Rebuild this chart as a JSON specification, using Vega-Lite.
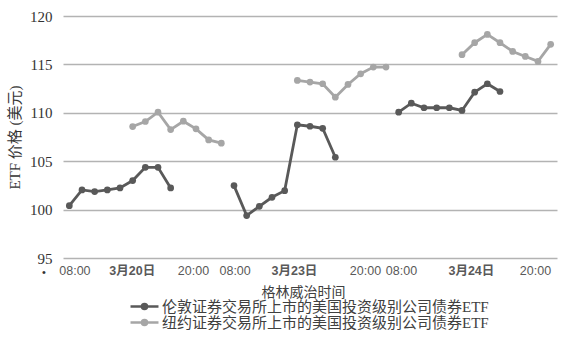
{
  "$schema": "https://vega.github.io/schema/vega-lite/v6.json",
  "width": 494,
  "height": 242,
  "autosize": "none",
  "padding": {"left": 63, "top": 16, "right": 13, "bottom": 81},
  "background": "white",
  "config": {"view": {"stroke": null}},
  "datasets": {
    "prices": [
      {"etf": "伦敦证券交易所上市的美国投资级别公司债券ETF", "seg": "L1", "slot": 0, "price": 100.41},
      {"etf": "伦敦证券交易所上市的美国投资级别公司债券ETF", "seg": "L1", "slot": 1, "price": 102.03},
      {"etf": "伦敦证券交易所上市的美国投资级别公司债券ETF", "seg": "L1", "slot": 2, "price": 101.86},
      {"etf": "伦敦证券交易所上市的美国投资级别公司债券ETF", "seg": "L1", "slot": 3, "price": 102.03},
      {"etf": "伦敦证券交易所上市的美国投资级别公司债券ETF", "seg": "L1", "slot": 4, "price": 102.24},
      {"etf": "伦敦证券交易所上市的美国投资级别公司债券ETF", "seg": "L1", "slot": 5, "price": 103.0},
      {"etf": "伦敦证券交易所上市的美国投资级别公司债券ETF", "seg": "L1", "slot": 6, "price": 104.37},
      {"etf": "伦敦证券交易所上市的美国投资级别公司债券ETF", "seg": "L1", "slot": 7, "price": 104.37},
      {"etf": "伦敦证券交易所上市的美国投资级别公司债券ETF", "seg": "L1", "slot": 8, "price": 102.24},
      {"etf": "纽约证券交易所上市的美国投资级别公司债券ETF", "seg": "N1", "slot": 5, "price": 108.58},
      {"etf": "纽约证券交易所上市的美国投资级别公司债券ETF", "seg": "N1", "slot": 6, "price": 109.1},
      {"etf": "纽约证券交易所上市的美国投资级别公司债券ETF", "seg": "N1", "slot": 7, "price": 110.06},
      {"etf": "纽约证券交易所上市的美国投资级别公司债券ETF", "seg": "N1", "slot": 8, "price": 108.27},
      {"etf": "纽约证券交易所上市的美国投资级别公司债券ETF", "seg": "N1", "slot": 9, "price": 109.13},
      {"etf": "纽约证券交易所上市的美国投资级别公司债券ETF", "seg": "N1", "slot": 10, "price": 108.34},
      {"etf": "纽约证券交易所上市的美国投资级别公司债券ETF", "seg": "N1", "slot": 11, "price": 107.2},
      {"etf": "纽约证券交易所上市的美国投资级别公司债券ETF", "seg": "N1", "slot": 12, "price": 106.86},
      {"etf": "伦敦证券交易所上市的美国投资级别公司债券ETF", "seg": "L2", "slot": 13, "price": 102.48},
      {"etf": "伦敦证券交易所上市的美国投资级别公司债券ETF", "seg": "L2", "slot": 14, "price": 99.38},
      {"etf": "伦敦证券交易所上市的美国投资级别公司债券ETF", "seg": "L2", "slot": 15, "price": 100.34},
      {"etf": "伦敦证券交易所上市的美国投资级别公司债券ETF", "seg": "L2", "slot": 16, "price": 101.27},
      {"etf": "伦敦证券交易所上市的美国投资级别公司债券ETF", "seg": "L2", "slot": 17, "price": 101.96},
      {"etf": "伦敦证券交易所上市的美国投资级别公司债券ETF", "seg": "L2", "slot": 18, "price": 108.76},
      {"etf": "伦敦证券交易所上市的美国投资级别公司债券ETF", "seg": "L2", "slot": 19, "price": 108.61},
      {"etf": "伦敦证券交易所上市的美国投资级别公司债券ETF", "seg": "L2", "slot": 20, "price": 108.4},
      {"etf": "伦敦证券交易所上市的美国投资级别公司债券ETF", "seg": "L2", "slot": 21, "price": 105.41},
      {"etf": "纽约证券交易所上市的美国投资级别公司债券ETF", "seg": "N2", "slot": 18, "price": 113.34},
      {"etf": "纽约证券交易所上市的美国投资级别公司债券ETF", "seg": "N2", "slot": 19, "price": 113.17},
      {"etf": "纽约证券交易所上市的美国投资级别公司债券ETF", "seg": "N2", "slot": 20, "price": 113.0},
      {"etf": "纽约证券交易所上市的美国投资级别公司债券ETF", "seg": "N2", "slot": 21, "price": 111.61},
      {"etf": "纽约证券交易所上市的美国投资级别公司债券ETF", "seg": "N2", "slot": 22, "price": 112.93},
      {"etf": "纽约证券交易所上市的美国投资级别公司债券ETF", "seg": "N2", "slot": 23, "price": 114.03},
      {"etf": "纽约证券交易所上市的美国投资级别公司债券ETF", "seg": "N2", "slot": 24, "price": 114.72},
      {"etf": "纽约证券交易所上市的美国投资级别公司债券ETF", "seg": "N2", "slot": 25, "price": 114.72},
      {"etf": "伦敦证券交易所上市的美国投资级别公司债券ETF", "seg": "L3", "slot": 26, "price": 110.06},
      {"etf": "伦敦证券交易所上市的美国投资级别公司债券ETF", "seg": "L3", "slot": 27, "price": 110.99},
      {"etf": "伦敦证券交易所上市的美国投资级别公司债券ETF", "seg": "L3", "slot": 28, "price": 110.52},
      {"etf": "伦敦证券交易所上市的美国投资级别公司债券ETF", "seg": "L3", "slot": 29, "price": 110.52},
      {"etf": "伦敦证券交易所上市的美国投资级别公司债券ETF", "seg": "L3", "slot": 30, "price": 110.52},
      {"etf": "伦敦证券交易所上市的美国投资级别公司债券ETF", "seg": "L3", "slot": 31, "price": 110.24},
      {"etf": "伦敦证券交易所上市的美国投资级别公司债券ETF", "seg": "L3", "slot": 32, "price": 112.13},
      {"etf": "伦敦证券交易所上市的美国投资级别公司债券ETF", "seg": "L3", "slot": 33, "price": 113.0},
      {"etf": "伦敦证券交易所上市的美国投资级别公司债券ETF", "seg": "L3", "slot": 34, "price": 112.2},
      {"etf": "纽约证券交易所上市的美国投资级别公司债券ETF", "seg": "N3", "slot": 31, "price": 116.0},
      {"etf": "纽约证券交易所上市的美国投资级别公司债券ETF", "seg": "N3", "slot": 32, "price": 117.24},
      {"etf": "纽约证券交易所上市的美国投资级别公司债券ETF", "seg": "N3", "slot": 33, "price": 118.1},
      {"etf": "纽约证券交易所上市的美国投资级别公司债券ETF", "seg": "N3", "slot": 34, "price": 117.24},
      {"etf": "纽约证券交易所上市的美国投资级别公司债券ETF", "seg": "N3", "slot": 35, "price": 116.34},
      {"etf": "纽约证券交易所上市的美国投资级别公司债券ETF", "seg": "N3", "slot": 36, "price": 115.82},
      {"etf": "纽约证券交易所上市的美国投资级别公司债券ETF", "seg": "N3", "slot": 37, "price": 115.31},
      {"etf": "纽约证券交易所上市的美国投资级别公司债券ETF", "seg": "N3", "slot": 38, "price": 117.07}
    ],
    "bullet": [
      {"slot": -2.0, "price": 93.5, "t": "•"}
    ]
  },
  "layer": [
    {
      "data": {"name": "prices"},
      "mark": {"type": "line", "strokeWidth": 2.8, "point": {"filled": true, "size": 45, "opacity": 1}},
      "encoding": {
        "x": {
          "field": "slot", "type": "quantitative",
          "scale": {"domain": [-0.5, 38.5], "nice": false, "zero": false},
          "axis": {
            "values": [0.4, 4.93, 9.76, 13.05, 17.73, 23.34, 26.18, 31.7, 36.76],
            "labelExpr": "datum.value < 2 ? '08:00' : datum.value < 7 ? '3月20日' : datum.value < 11 ? '20:00' : datum.value < 15 ? '08:00' : datum.value < 20 ? '3月23日' : datum.value < 25 ? '20:00' : datum.value < 28 ? '08:00' : datum.value < 34 ? '3月24日' : '20:00'",
            "labelFontWeight": {"condition": {"test": "(datum.value > 4 && datum.value < 6) || (datum.value > 17 && datum.value < 19) || (datum.value > 31 && datum.value < 33)", "value": "bold"}, "value": "normal"},
            "grid": false, "domain": false, "ticks": false,
            "labelFont": "Liberation Sans, Noto Sans CJK SC",
            "labelFontSize": 12.5,
            "labelColor": "#595959",
            "labelPadding": 6,
            "labelFlush": false,
            "labelOverlap": false,
            "title": "格林威治时间",
            "titleX": 240,
            "titleFont": "Liberation Serif, Noto Sans CJK SC",
            "titleFontSize": 14,
            "titleFontWeight": "normal",
            "titleColor": "#404040",
            "titlePadding": 9
          }
        },
        "y": {
          "field": "price", "type": "quantitative",
          "scale": {"domain": [95, 120], "nice": false, "zero": false},
          "axis": {
            "values": [95, 100, 105, 110, 115, 120],
            "grid": true, "gridColor": "#b3b3b3", "gridWidth": 1.3,
            "domain": false, "ticks": false,
            "labelFont": "Liberation Serif",
            "labelFontSize": 15,
            "labelColor": "#333333",
            "labelPadding": 11,
            "title": "ETF 价格 (美元)",
            "titleFont": "Liberation Serif, Noto Sans CJK SC",
            "titleFontSize": 15,
            "titleFontWeight": "normal",
            "titleColor": "#333333",
            "titlePadding": 7
          }
        },
        "color": {
          "field": "etf", "type": "nominal",
          "scale": {
            "domain": ["伦敦证券交易所上市的美国投资级别公司债券ETF", "纽约证券交易所上市的美国投资级别公司债券ETF"],
            "range": ["#595959", "#a6a6a6"]
          },
          "legend": {
            "title": null,
            "orient": "none",
            "legendX": 74,
            "legendY": 283,
            "direction": "vertical",
            "symbolType": "M-2.33,0L2.33,0M0.42,0A0.42,0.42,0,1,1,-0.42,0A0.42,0.42,0,1,1,0.42,0Z",
            "symbolSize": 144,
            "symbolStrokeWidth": 2.5,
            "labelFont": "Liberation Serif, Noto Sans CJK SC",
            "labelFontSize": 15,
            "labelColor": "#404040",
            "labelOffset": 10,
            "labelLimit": 500,
            "rowPadding": -4,
            "encode": {
              "symbols": {
                "update": {
                  "fill": {"scale": "color", "field": "value"},
                  "stroke": {"scale": "color", "field": "value"},
                  "strokeWidth": {"value": 2.5},
                  "opacity": {"value": 1}
                }
              }
            }
          }
        },
        "detail": {"field": "seg", "type": "nominal"}
      }
    },
    {
      "data": {"name": "bullet"},
      "mark": {"type": "text", "fontSize": 11, "color": "#333333"},
      "encoding": {
        "x": {"field": "slot", "type": "quantitative"},
        "y": {"field": "price", "type": "quantitative"},
        "text": {"field": "t"}
      }
    }
  ]
}
